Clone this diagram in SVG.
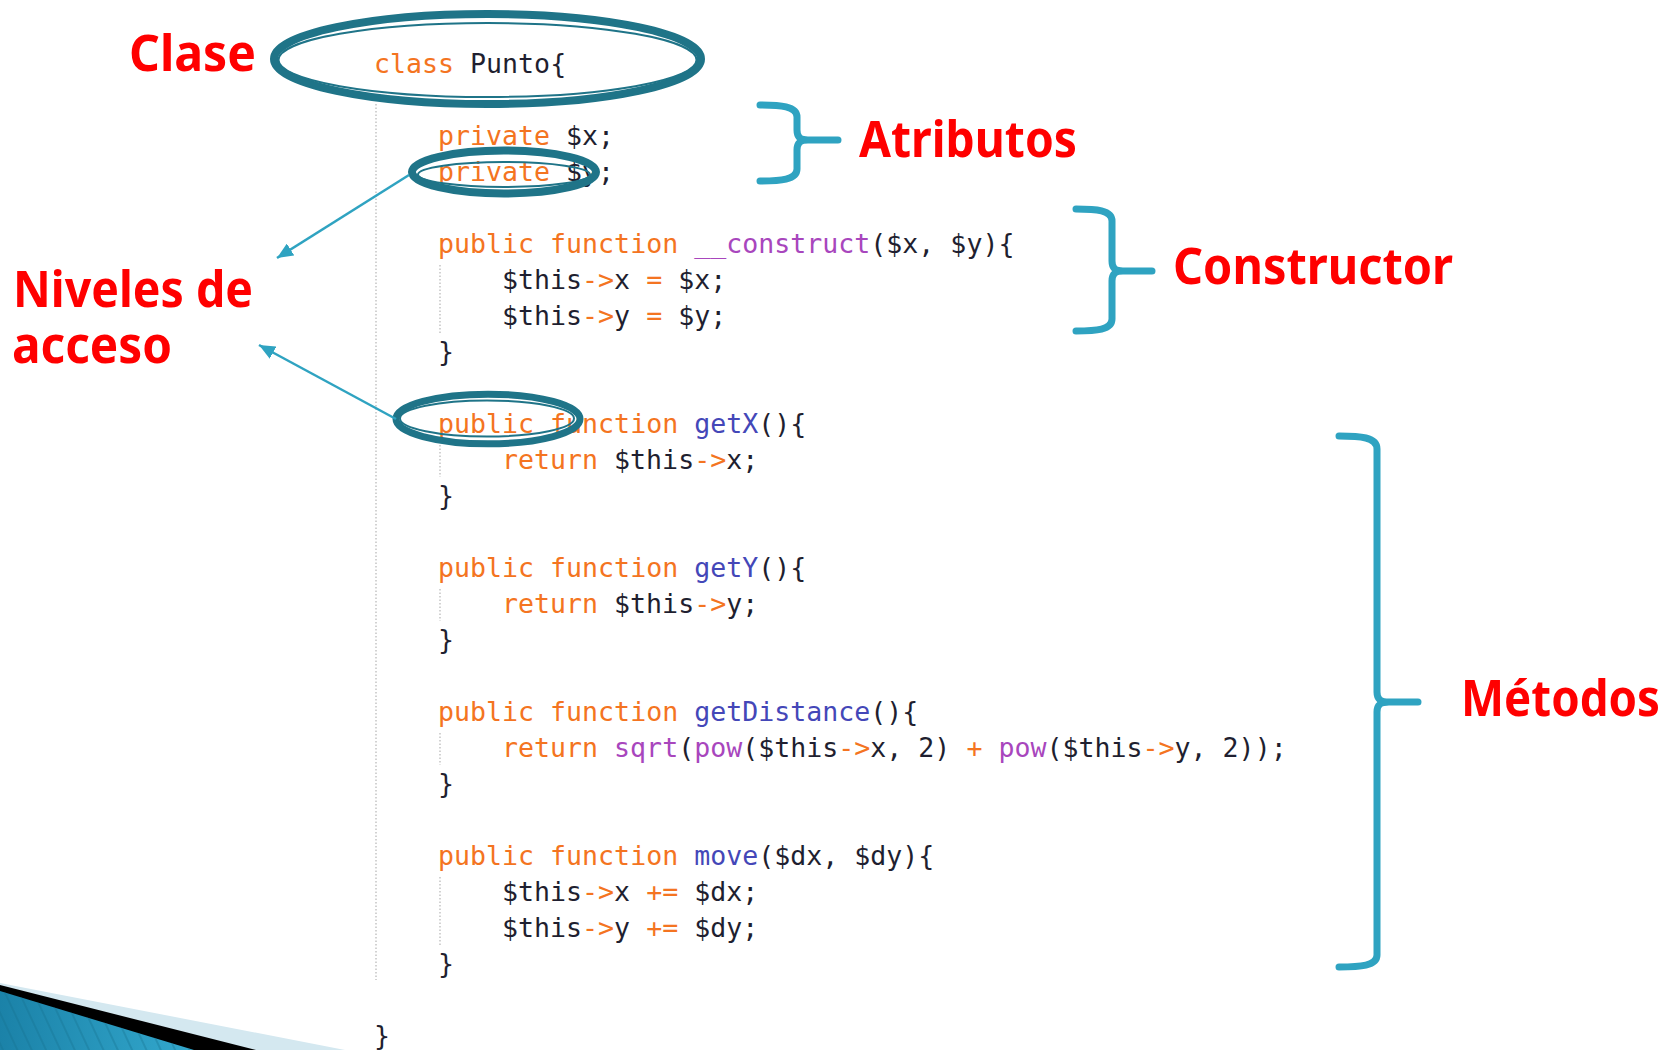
<svg xmlns="http://www.w3.org/2000/svg" width="1675" height="1050" viewBox="0 0 1675 1050">
<defs>
<style>
.code{font-family:"DejaVu Sans Mono","Liberation Mono",monospace;font-size:26.6px;fill:#1f1f30}
.k{fill:#f47421}
.fn{fill:#4447b8}
.bi{fill:#a846bd}
.lbl{font-family:"Noto Sans","Open Sans","Liberation Sans",sans-serif;font-weight:700;font-size:51px;fill:#ff0000}
.brace{fill:none;stroke:#2fa3c1;stroke-width:7;stroke-linecap:round;stroke-linejoin:round}
.ring{fill:none;stroke:#1f7488;stroke-width:8}
.ring-in{fill:none;stroke:#1f7488;stroke-width:2}
.guide{stroke:#c4c4c4;stroke-width:1.5;stroke-dasharray:1.5 2;fill:none}
.arrow{stroke:#2fa3c1;stroke-width:2.5;fill:none;marker-end:url(#ah)}
</style>
<marker id="ah" markerUnits="userSpaceOnUse" markerWidth="18" markerHeight="14" refX="16" refY="7" orient="auto"><path d="M0,0 L16,7 L0,14 Z" fill="#2fa3c1"/></marker>
<linearGradient id="bluegrad" x1="0" y1="0" x2="1" y2="0">
<stop offset="0" stop-color="#1b82a8"/>
<stop offset="1" stop-color="#33a8cd"/>
</linearGradient>
<pattern id="stripes" patternUnits="userSpaceOnUse" width="13" height="13" patternTransform="rotate(-25)">
<line x1="1" y1="0" x2="1" y2="13" stroke="#15708f" stroke-opacity="0.45" stroke-width="1.5"/>
</pattern>
</defs>
<rect x="0" y="0" width="1675" height="1050" fill="#ffffff"/>

<g id="decoration">
<polygon points="0,983 345,1050 0,1050" fill="#d4e8f0"/>
<polygon points="0,985 256,1050 0,1050" fill="#000000"/>
<polygon points="0,991 194,1050 0,1050" fill="url(#bluegrad)"/>
<polygon points="0,991 194,1050 0,1050" fill="url(#stripes)"/>
</g>

<g id="guides">
<line class="guide" x1="376" y1="104" x2="376" y2="980"/>
<line class="guide" x1="440" y1="265" x2="440" y2="333"/>
<line class="guide" x1="440" y1="445" x2="440" y2="477"/>
<line class="guide" x1="440" y1="589" x2="440" y2="621"/>
<line class="guide" x1="440" y1="733" x2="440" y2="765"/>
<line class="guide" x1="440" y1="877" x2="440" y2="945"/>
</g>

<g id="code" class="code">
<text x="374" y="73"><tspan class="k">class</tspan> Punto{</text>
<text x="438" y="145"><tspan class="k">private</tspan> $x;</text>
<text x="438" y="181"><tspan class="k">private</tspan> $y;</text>
<text x="438" y="253"><tspan class="k">public function</tspan> <tspan class="bi">__construct</tspan>($x, $y){</text>
<text x="502" y="289">$this<tspan class="k">-&gt;</tspan>x <tspan class="k">=</tspan> $x;</text>
<text x="502" y="325">$this<tspan class="k">-&gt;</tspan>y <tspan class="k">=</tspan> $y;</text>
<text x="438" y="361">}</text>
<text x="438" y="433"><tspan class="k">public function</tspan> <tspan class="fn">getX</tspan>(){</text>
<text x="502" y="469"><tspan class="k">return</tspan> $this<tspan class="k">-&gt;</tspan>x;</text>
<text x="438" y="505">}</text>
<text x="438" y="577"><tspan class="k">public function</tspan> <tspan class="fn">getY</tspan>(){</text>
<text x="502" y="613"><tspan class="k">return</tspan> $this<tspan class="k">-&gt;</tspan>y;</text>
<text x="438" y="649">}</text>
<text x="438" y="721"><tspan class="k">public function</tspan> <tspan class="fn">getDistance</tspan>(){</text>
<text x="502" y="757"><tspan class="k">return</tspan> <tspan class="bi">sqrt</tspan>(<tspan class="bi">pow</tspan>($this<tspan class="k">-&gt;</tspan>x, 2) <tspan class="k">+</tspan> <tspan class="bi">pow</tspan>($this<tspan class="k">-&gt;</tspan>y, 2));</text>
<text x="438" y="793">}</text>
<text x="438" y="865"><tspan class="k">public function</tspan> <tspan class="fn">move</tspan>($dx, $dy){</text>
<text x="502" y="901">$this<tspan class="k">-&gt;</tspan>x <tspan class="k">+=</tspan> $dx;</text>
<text x="502" y="937">$this<tspan class="k">-&gt;</tspan>y <tspan class="k">+=</tspan> $dy;</text>
<text x="438" y="973">}</text>
<text x="374" y="1045">}</text>
</g>

<g id="clase">
<ellipse class="ring" cx="487.5" cy="59" rx="213.5" ry="45"/>
<ellipse class="ring-in" cx="487.5" cy="60" rx="209" ry="37"/>
<text class="lbl" x="129" y="71" textLength="127" lengthAdjust="spacingAndGlyphs">Clase</text>
</g>

<g id="hl-private">
<ellipse class="ring" cx="504" cy="172" rx="92" ry="21.5"/>
<ellipse class="ring-in" cx="504" cy="174.5" rx="86" ry="12.5"/>
</g>

<g id="hl-public">
<ellipse class="ring" cx="488" cy="419" rx="92" ry="24.8" style="stroke-width:7"/>
<ellipse class="ring-in" cx="487" cy="418.5" rx="87" ry="18"/>
</g>

<g id="atributos">
<path class="brace" d="M760,105 C780,105 797,106 797,117 L797,130 C797,137 800,140 808,140 L838,140 M808,140 C800,140 797,143 797,150 L797,169 C797,180 780,181 760,181"/>
<text class="lbl" x="859" y="157" textLength="218" lengthAdjust="spacingAndGlyphs">Atributos</text>
</g>

<g id="constructor">
<path class="brace" d="M1076,209 C1096,209 1112,210 1112,221 L1112,261 C1112,268 1115,271 1123,271 L1152,271 M1123,271 C1115,271 1112,274 1112,281 L1112,319 C1112,330 1096,331 1076,331"/>
<text class="lbl" x="1173" y="284" textLength="280" lengthAdjust="spacingAndGlyphs">Constructor</text>
</g>

<g id="metodos">
<path class="brace" d="M1339,436 C1360,436 1377,437 1377,449 L1377,692 C1377,699 1380,702 1389,702 L1418,702 M1389,702 C1380,702 1377,705 1377,712 L1377,955 C1377,966 1360,967 1339,967"/>
<text class="lbl" x="1461" y="716" textLength="199" lengthAdjust="spacingAndGlyphs">Métodos</text>
</g>

<g id="niveles">
<text class="lbl"><tspan x="13" y="307" textLength="240" lengthAdjust="spacingAndGlyphs">Niveles de</tspan><tspan x="12" y="363" textLength="160" lengthAdjust="spacingAndGlyphs">acceso</tspan></text>
</g>

<g id="connectors">
<line class="arrow" x1="409" y1="175" x2="277" y2="258"/>
<line class="arrow" x1="396" y1="419" x2="259" y2="345"/>
</g>
</svg>
